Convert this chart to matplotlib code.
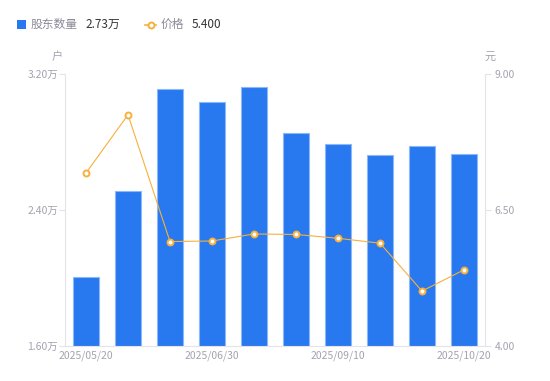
import matplotlib
matplotlib.use("Agg")
import matplotlib.pyplot as plt
from matplotlib.lines import Line2D

plt.rcParams['font.family'] = ['Noto Sans CJK SC', 'DejaVu Sans']

dates = ["2025/05/20", "2025/05/30", "2025/06/20", "2025/06/30", "2025/07/31",
         "2025/08/31", "2025/09/10", "2025/09/20", "2025/09/30", "2025/10/20"]
holders = [2.006, 2.511, 3.110, 3.033, 3.123, 2.851, 2.786, 2.725, 2.776, 2.731]  # 万户
prices = [7.18, 8.25, 5.92, 5.93, 6.06, 6.05, 5.98, 5.89, 5.01, 5.40]
left_ticks = [1.60, 2.40, 3.20]
right_ticks = [4.00, 6.50, 9.00]
shown_idx = [0, 3, 6, 9]

BLUE = '#2878F0'
ORANGE = '#F7B03C'
GRID = '#E3E3E8'
TICK = '#A3A3B0'

fig = plt.figure(figsize=(5.5, 3.81), dpi=100)
ax = fig.add_axes([65/550, 1 - 346/381, 420/550, (346-74)/381])
ax2 = ax.twinx()

x = list(range(len(dates)))
ax.bar(x, holders, width=0.6, color=BLUE, edgecolor='#8DB8F7', linewidth=0.8, zorder=2)
ax.set_ylim(1.6, 3.2)
ax.set_xlim(-0.5, len(dates) - 0.5)
ax.set_yticks(left_ticks)
ax.set_yticklabels([f"{v:.2f}万" for v in left_ticks])
ax.set_xticks([x[i] for i in shown_idx])
ax.set_xticklabels([dates[i] for i in shown_idx])

ax2.plot(x, prices, color=ORANGE, linewidth=0.8, marker='o', markersize=4.3,
         markerfacecolor='white', markeredgecolor=ORANGE, markeredgewidth=1.4, zorder=3)
ax2.set_ylim(4.0, 9.0)
ax2.set_yticks(right_ticks)
ax2.set_yticklabels([f"{v:.2f}" for v in right_ticks])

for a in (ax, ax2):
    for s in a.spines.values():
        s.set_visible(False)
ax.spines['left'].set_visible(True)
ax.spines['left'].set_color(GRID)
ax.spines['bottom'].set_visible(True)
ax.spines['bottom'].set_color(GRID)
ax2.spines['right'].set_visible(True)
ax2.spines['right'].set_color(GRID)

ax.tick_params(axis='y', colors=GRID, labelcolor=TICK, labelsize=7.5, length=4, width=0.8, pad=1)
ax.tick_params(axis='x', length=0, labelcolor=TICK, labelsize=7.5, pad=3)
ax2.tick_params(axis='y', colors=GRID, labelcolor=TICK, labelsize=7.5, length=4, width=0.8, pad=3)

fig.text(57/550, 1 - 57/381, "户", color=TICK, fontsize=8, ha='center', va='center')
fig.text(490/550, 1 - 57/381, "元", color=TICK, fontsize=8, ha='center', va='center')

# legend
fig.patches.append(plt.Rectangle((17/550, 1 - 29/381), 9/550, 9/381, transform=fig.transFigure,
                                 facecolor=BLUE, edgecolor='none'))
fig.text(31/550, 1 - 24.5/381, "股东数量", color='#8A8A99', fontsize=8.5, ha='left', va='center')
fig.text(85/550, 1 - 24.5/381, f"{holders[-1]:.2f}万", color='#333333', fontsize=8.5, ha='left', va='center')
fig.add_artist(Line2D([145/550, 156/550], [1 - 24.5/381, 1 - 24.5/381], transform=fig.transFigure,
                      color=ORANGE, linewidth=1.2))
fig.add_artist(Line2D([150.5/550], [1 - 24.5/381], transform=fig.transFigure, color=ORANGE,
                      marker='o', markersize=4.3, markerfacecolor='white', markeredgewidth=1.4))
fig.text(161/550, 1 - 24.5/381, "价格", color='#8A8A99', fontsize=8.5, ha='left', va='center')
fig.text(192/550, 1 - 24.5/381, f"{prices[-1]:.3f}", color='#333333', fontsize=8.5, ha='left', va='center')

fig.savefig("out.png", dpi=100)
